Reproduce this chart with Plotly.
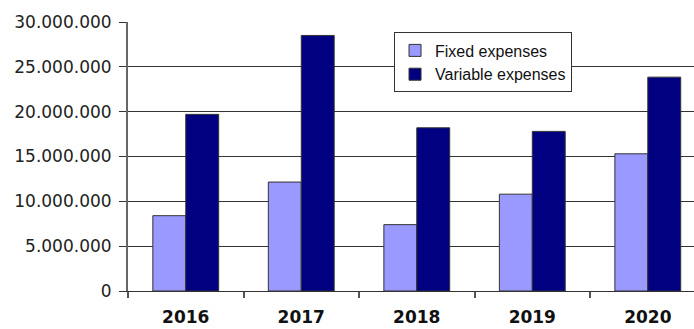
import plotly.graph_objects as go

# Yearly expense figures
years = ["2016", "2017", "2018", "2019", "2020"]
fixed_expenses = [8_400_000, 12_150_000, 7_400_000, 10_800_000, 15_300_000]
variable_expenses = [19_700_000, 28_500_000, 18_200_000, 17_800_000, 23_850_000]
y_ticks = [0, 5_000_000, 10_000_000, 15_000_000, 20_000_000, 25_000_000, 30_000_000]

fig = go.Figure()
fig.add_trace(go.Bar(
    x=years, y=fixed_expenses, name="Fixed expenses",
    marker=dict(color="#9999FF", line=dict(color="#333333", width=1)),
))
fig.add_trace(go.Bar(
    x=years, y=variable_expenses, name="Variable expenses",
    marker=dict(color="#000080", line=dict(color="#333333", width=1)),
))

fig.update_layout(
    width=694, height=329,
    margin=dict(l=128, r=0, t=22, b=38),
    paper_bgcolor="white", plot_bgcolor="white",
    barmode="group", bargap=0.43, bargroupgap=0,
    separators=",.",
    font=dict(family="DejaVu Sans", color="#222222"),
    legend=dict(
        x=0.47, y=0.961, xanchor="left", yanchor="top",
        bgcolor="white", bordercolor="#333333", borderwidth=1,
        font=dict(family="Liberation Sans", size=16, color="#111111"),
        traceorder="normal",
    ),
    xaxis=dict(
        range=[-0.5, 4.4], automargin=False,
        tickson="boundaries", ticks="outside", ticklen=6, tickwidth=2, tickcolor="#555555",
        showline=True, linecolor="#333333", linewidth=1,
        tickfont=dict(family="DejaVu Sans", size=17, color="#111111", weight="bold"),
        ticklabelstandoff=11,
        showgrid=False,
    ),
    yaxis=dict(
        range=[0, 30_000_000], tickvals=y_ticks, tickformat=",d", automargin=False,
        ticks="outside", ticklen=7, tickwidth=1, tickcolor="#333333",
        showline=True, linecolor="#666666", linewidth=2,
        showgrid=True, gridcolor="#333333", gridwidth=1,
        tickfont=dict(family="DejaVu Sans", size=17, color="#222222"),
        ticklabelstandoff=4,
        zeroline=False,
    ),
)

fig.write_html("out.html")
